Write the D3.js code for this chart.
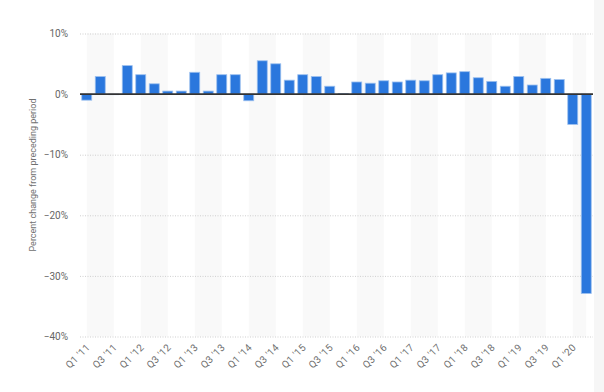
<!DOCTYPE html>
<html><head><meta charset="utf-8">
<script src="https://cdn.jsdelivr.net/npm/d3@7"></script>
<style>body{margin:0;background:#fff}svg{display:block}text{font-family:Roboto,"Open Sans",sans-serif}</style>
</head><body>
<svg id="c" width="604" height="392"></svg>
<script>
const quarters = [];
const years = ["11","12","13","14","15","16","17","18","19","20"];
years.forEach(y => { for (let q = 1; q <= 4; q++) quarters.push("Q" + q + " '" + y); });
const categories = quarters.slice(0, 38);
const values = [
  -1.0, 2.9, -0.1, 4.7,
  3.2, 1.7, 0.5, 0.5,
  3.6, 0.5, 3.2, 3.2,
  -1.1, 5.5, 5.0, 2.3,
  3.2, 2.9, 1.3, 0.1,
  2.0, 1.8, 2.2, 2.0,
  2.3, 2.2, 3.2, 3.5,
  3.7, 2.7, 2.1, 1.3,
  2.9, 1.5, 2.6, 2.4,
  -5.0, -32.9
];
const yTicks = [10, 0, -10, -20, -30, -40];
const yTitle = "Percent change from preceding period";

const svg = d3.select("#c");
const x = d3.scaleBand().domain(categories).range([80, 593]).paddingInner(0.26).paddingOuter(0.13);
const y = d3.scaleLinear().domain([-40, 10]).range([336.5, 33.5]);
const cx = d => x(d) + x.bandwidth() / 2;

// right edge shade
svg.append("rect").attr("x", 594).attr("y", 0).attr("width", 10).attr("height", 392).attr("fill", "#f6f6f6");

// alternating bands
const bandG = svg.append("g");
for (let i = 0; i < categories.length; i += 4) {
  const x0 = cx(categories[i]);
  const x1 = cx(categories[Math.min(i + 2, categories.length - 1)]);
  bandG.append("rect").attr("x", x0).attr("y", y(10)).attr("width", x1 - x0)
    .attr("height", y(-40) - y(10)).attr("fill", "#f9f9f9");
}

// gridlines + y labels
const fmt = v => (v < 0 ? "\u2212" + Math.abs(v) : v) + "%";
const yAxis = d3.axisLeft(y).tickValues(yTicks).tickSize(0).tickPadding(12).tickFormat(fmt);
const ya = svg.append("g").attr("transform", "translate(80,0)").call(yAxis);
ya.select(".domain").remove();
ya.selectAll("text").attr("fill", "#666").attr("font-size", 10).attr("dx", 0);
const grid = d3.axisLeft(y).tickValues(yTicks.filter(v => v !== 0)).tickSize(-513).tickFormat("");
const ga = svg.append("g").attr("transform", "translate(80,0)").call(grid);
ga.select(".domain").remove();
ga.selectAll("line").attr("stroke", "#cfcfcf").attr("stroke-dasharray", "1,1.5");

// bars
svg.append("g").selectAll("rect").data(values).join("rect")
  .attr("x", (d, i) => x(categories[i]))
  .attr("width", x.bandwidth())
  .attr("y", d => y(Math.max(0, d)))
  .attr("height", d => Math.abs(y(d) - y(0)))
  .attr("fill", "#2a77dd")
  .attr("stroke", "#9cc0ef").attr("stroke-width", 0.8);

// zero line
svg.append("line").attr("x1", 80).attr("x2", 593).attr("y1", y(0)).attr("y2", y(0))
  .attr("stroke", "#333").attr("stroke-width", 1.6);

// x labels
const xa = d3.axisBottom(x).tickValues(categories.filter((d, i) => i % 2 === 0)).tickSize(0).tickPadding(0);
const xg = svg.append("g").attr("transform", "translate(0,348)").call(xa);
xg.select(".domain").remove();
xg.selectAll("text").attr("fill", "#707070").attr("font-size", 10)
  .attr("text-anchor", "end").attr("dy", 0).attr("y", 0)
  .attr("letter-spacing", 0.3)
  .attr("transform", "translate(4,0) rotate(-45)");

// y title
svg.append("text").attr("transform", "translate(36,175) rotate(-90)")
  .attr("text-anchor", "middle").attr("font-size", 9).attr("fill", "#707070").text(yTitle);
</script>
</body></html>
